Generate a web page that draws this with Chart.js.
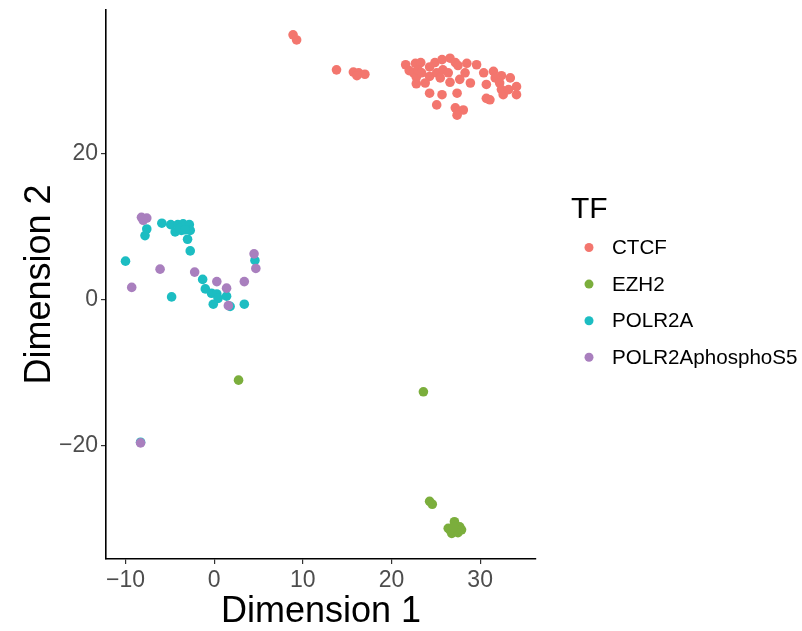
<!DOCTYPE html>
<html><head><meta charset="utf-8">
<script src="https://cdn.jsdelivr.net/npm/chart.js@4"></script>
<style>html,body{margin:0;padding:0;background:#fff;}</style>
</head><body>
<canvas id="c" width="802" height="631"></canvas>
<script>
const seriesNames = ["CTCF", "EZH2", "POLR2A", "POLR2AphosphoS5"];
const seriesColors = ["#F3766E", "#7BAE3C", "#1CBDC2", "#A97FBE"];
const legendTitle = "TF";

const ctcfX = [8.9, 9.3, 13.8, 15.7, 16.3, 17.0, 16.1,
  21.6, 22.7, 23.3, 22.0, 22.5, 22.8, 23.0, 23.4, 24.3, 24.9, 25.7, 26.6, 27.2, 27.5, 28.5, 29.6,
  30.4, 31.5, 32.4, 33.4, 24.3, 25.1, 25.8, 26.4, 25.5, 26.6, 27.7, 28.9, 28.3, 24.3, 25.7, 25.1,
  27.4, 30.7, 30.7, 31.1, 32.4, 32.6, 33.2, 34.1, 34.1, 27.2, 27.5, 28.1, 31.7, 32.2, 23.8, 22.8, 27.4];
const ctcfY = [36.3, 35.6, 31.5, 31.2, 31.1, 30.9, 30.7,
  32.2, 32.4, 32.5, 31.4, 31.1, 30.5, 31.5, 31.1, 31.9, 32.5, 32.9, 33.1, 32.5, 32.1, 32.4, 32.2,
  31.1, 31.3, 30.7, 30.4, 30.6, 31.1, 31.5, 31.1, 30.4, 29.8, 30.2, 29.7, 31.1, 28.3, 28.1, 26.7,
  28.3, 29.5, 27.6, 27.4, 28.8, 28.1, 28.8, 29.2, 28.1, 26.3, 25.8, 26.0, 30.4, 29.7, 29.7, 29.6, 25.3];

const ezh2X = [2.75, 23.6, 24.3, 24.6, 27.1, 26.4, 27.7, 27.2, 26.8, 27.5, 27.9, 26.6, 27.0];
const ezh2Y = [-11.0, -12.6, -27.6, -28.0, -30.4, -31.3, -31.1, -31.7, -32.0, -31.9, -31.5, -31.5, -31.1];

const polr2aX = [-7.6, -7.8, -5.9, -4.9, -4.1, -3.5, -2.8, -4.4, -3.7, -2.7, -3.0, -2.7, -10.0, -4.8,
  -1.3, -1.0, -0.3, 0.3, 0.45, 1.4, -0.1, 1.8, 3.4, 4.6, -3.9, -3.3, -8.3];
const polr2aY = [9.7, 8.8, 10.5, 10.3, 10.3, 10.4, 10.3, 9.3, 9.5, 9.5, 8.3, 6.7, 5.3, 0.4,
  2.8, 1.5, 0.9, 0.8, 0.2, 0.5, -0.6, -0.9, -0.6, 5.4, 9.8, 9.6, -19.5];

const phosX = [-8.2, -7.6, -8.0, -6.1, -9.3, -2.2, 0.3, 1.4, 3.4, 4.5, 4.7, 1.6, -8.3];
const phosY = [11.3, 11.2, 10.9, 4.2, 1.7, 3.8, 2.5, 1.6, 2.5, 6.3, 4.3, -0.8, -19.6];

const xTickValues = [-10, 0, 10, 20, 30];
const xTickLabels = ["\u221210", "0", "10", "20", "30"];
const yTickValues = [-20, 0, 20];
const yTickLabels = ["\u221220", "0", "20"];

const FONT = '"Liberation Sans", Arial, Helvetica, sans-serif';
const seriesX = [ctcfX, ezh2X, polr2aX, phosX];
const seriesY = [ctcfY, ezh2Y, polr2aY, phosY];

const datasets = seriesNames.map((name, i) => ({
  label: name,
  data: seriesX[i].map((x, j) => ({x: x, y: seriesY[i][j]})),
  backgroundColor: seriesColors[i],
  borderColor: seriesColors[i],
  borderWidth: 0,
  pointRadius: 4.8,
  pointHoverRadius: 4.8,
  order: seriesNames.length - i
}));

const legendPlugin = {
  id: 'tfLegend',
  afterDraw(chart) {
    const c = chart.ctx;
    c.save();
    c.textAlign = 'left';
    c.textBaseline = 'middle';
    c.fillStyle = '#000';
    c.font = '30px ' + FONT;
    c.fillText(legendTitle, 571, 210);
    seriesNames.forEach((name, i) => {
      const y = 247.5 + i * 36.6;
      c.beginPath();
      c.arc(589, y, 4.5, 0, Math.PI * 2);
      c.fillStyle = seriesColors[i];
      c.fill();
      c.fillStyle = '#000';
      c.font = '20.6px ' + FONT;
      c.fillText(name, 612, y + 1);
    });
    c.restore();
  }
};

function axisCommon(vals, labels, titleText) {
  return {
    type: 'linear',
    afterBuildTicks: s => { s.ticks = vals.map(v => ({value: v})); },
    ticks: {
      autoSkip: false, maxRotation: 0, minRotation: 0,
      color: '#4D4D4D', font: {size: 23, family: FONT}, padding: 3,
      callback: (v) => { const k = vals.indexOf(v); return k >= 0 ? labels[k] : ''; }
    },
    grid: {display: true, drawOnChartArea: false, drawTicks: true, tickLength: 5, color: '#333', lineWidth: 1.2},
    border: {display: true, color: '#000', width: 1.6},
    title: {display: true, text: titleText, color: '#000', font: {size: 36, family: FONT}, padding: {top: 0, bottom: -3}}
  };
}

const xScale = axisCommon(xTickValues, xTickLabels, 'Dimension 1');
xScale.min = -12.2; xScale.max = 36.3;
xScale.afterFit = s => { s.height = 72; s.paddingLeft = 0; s.paddingRight = 0; };
const yScale = axisCommon(yTickValues, yTickLabels, 'Dimension 2');
yScale.min = -35.5; yScale.max = 39.7;
yScale.title.padding = {top: 18, bottom: 0};
yScale.afterFit = s => { s.width = 106; s.paddingTop = 0; s.paddingBottom = 0; };

new Chart(document.getElementById('c'), {
  type: 'scatter',
  data: {datasets},
  options: {
    responsive: false,
    animation: false,
    devicePixelRatio: 1,
    layout: {padding: {left: 0, top: 10, right: 266, bottom: 0}},
    plugins: {legend: {display: false}, tooltip: {enabled: false}},
    events: [],
    scales: {x: xScale, y: yScale}
  },
  plugins: [legendPlugin]
});
</script>
</body></html>
